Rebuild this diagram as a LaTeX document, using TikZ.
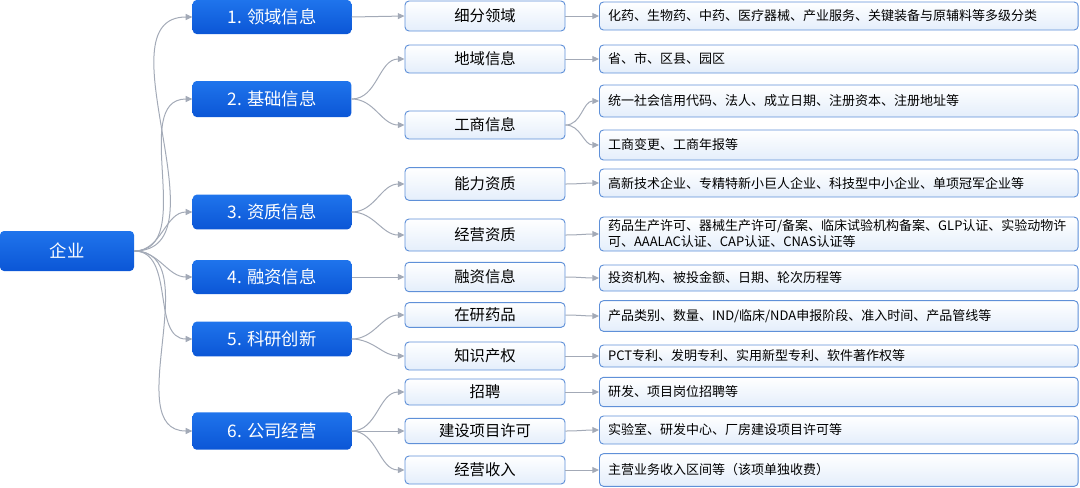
\documentclass[tikz,border=0pt]{standalone}
\usepackage{fontspec}
\setmainfont{Noto Sans CJK SC}
\usepackage{tikz}
\usetikzlibrary{arrows.meta}

\definecolor{mainblue}{HTML}{1F74EC}
\definecolor{deepblue}{HTML}{0B56D6}
\definecolor{edgeblue}{HTML}{5F90D8}
\definecolor{paleblue}{HTML}{E4EEFB}
\definecolor{linkgray}{HTML}{A3AAB7}

\tikzset{
  topbox/.style={rounded corners=3pt, top color=mainblue, bottom color=deepblue, draw=none,
    text=white, minimum width=119pt, minimum height=25.5pt, inner sep=0pt,
    font=\fontsize{13pt}{15pt}\selectfont},
  subbox/.style={rounded corners=3pt, draw=edgeblue, line width=0.7pt, top color=white,
    bottom color=paleblue, minimum width=120pt, minimum height=21pt, inner sep=0pt,
    font=\fontsize{11.5pt}{14pt}\selectfont},
  leafbox/.style={rounded corners=3pt, draw=edgeblue, line width=0.7pt, top color=white,
    bottom color=paleblue, text width=346pt, inner xsep=6.5pt, inner ysep=0pt, align=left,
    minimum height=21pt, anchor=west, font=\fontsize{9.75pt}{12pt}\selectfont},
  link/.style={draw=linkgray, line width=0.75pt, -{Triangle[length=5pt,width=4.5pt]}}
}

\begin{document}
\begin{tikzpicture}[x=0.75pt,y=-0.75pt]
\useasboundingbox (0,0) rectangle (1080,487);

\node [topbox, minimum width=100.5pt, minimum height=30pt] (root) at (67,251) {企业};

\node [topbox] (info) at (272,17) {1. 领域信息};
\node [topbox, minimum height=27pt] (base) at (272,99) {2. 基础信息};
\node [topbox, minimum height=26pt] (qual) at (272,212) {3. 资质信息};
\node [topbox] (fund) at (272,277) {4. 融资信息};
\node [topbox, minimum height=26pt] (rnd) at (272,339) {5. 科研创新};
\node [topbox, minimum height=28pt] (ops) at (272,431) {6. 公司经营};

\node [subbox, minimum height=22.5pt] (field) at (485,16) {细分领域};
\node [subbox] (region) at (485,59) {地域信息};
\node [subbox] (biz) at (485,125) {工商信息};
\node [subbox, minimum height=24.5pt] (ability) at (485,184) {能力资质};
\node [subbox, minimum height=24pt] (license) at (485,235) {经营资质};
\node [subbox, minimum height=22pt] (finance) at (485,277) {融资信息};
\node [subbox, minimum height=18.5pt] (drug) at (485,315) {在研药品};
\node [subbox] (ip) at (485,356) {知识产权};
\node [subbox, minimum height=19.5pt] (hire) at (485,392) {招聘};
\node [subbox, minimum height=19pt] (build) at (485,431) {建设项目许可};
\node [subbox] (income) at (485,470) {经营收入};

\node [leafbox] (fieldtxt) at (599,16) {化药、生物药、中药、医疗器械、产业服务、关键装备与原辅料等多级分类};
\node [leafbox] (regiontxt) at (599,59) {省、市、区县、园区};
\node [leafbox, minimum height=24pt] (biztxt) at (599,101) {统一社会信用代码、法人、成立日期、注册资本、注册地址等};
\node [leafbox, minimum height=22.5pt] (bizchg) at (599,145) {工商变更、工商年报等};
\node [leafbox] (abilitytxt) at (599,183) {高新技术企业、专精特新小巨人企业、科技型中小企业、单项冠军企业等};
\node [leafbox, minimum height=25.5pt] (licensetxt) at (599,234) {药品生产许可、器械生产许可/备案、临床试验机构备案、GLP认证、实验动物许\\可、AAALAC认证、CAP认证、CNAS认证等};
\node [leafbox, minimum height=19.5pt] (financetxt) at (599,278) {投资机构、被投金额、日期、轮次历程等};
\node [leafbox, minimum height=23pt] (drugtxt) at (599,316) {产品类别、数量、IND/临床/NDA申报阶段、准入时间、产品管线等};
\node [leafbox, minimum height=16.5pt] (iptxt) at (599,356) {PCT专利、发明专利、实用新型专利、软件著作权等};
\node [leafbox, minimum height=22pt] (hiretxt) at (599,392) {研发、项目岗位招聘等};
\node [leafbox] (buildtxt) at (599,430) {实验室、研发中心、厂房建设项目许可等};
\node [leafbox, minimum height=24.5pt] (incometxt) at (599,470) {主营业务收入区间等（该项单独收费）};

\foreach \n in {info,base,qual,fund,rnd,ops}
  \draw [link] (root.east) to [out=0, in=180] (\n.west);

\draw [link] (info.east) -- (field.west);
\draw [link] (base.east) to [out=0, in=180] (region.west);
\draw [link] (base.east) to [out=0, in=180] (biz.west);
\draw [link] (qual.east) to [out=0, in=180] (ability.west);
\draw [link] (qual.east) to [out=0, in=180] (license.west);
\draw [link] (fund.east) -- (finance.west);
\draw [link] (rnd.east) to [out=0, in=180] (drug.west);
\draw [link] (rnd.east) to [out=0, in=180] (ip.west);
\draw [link] (ops.east) to [out=0, in=180] (hire.west);
\draw [link] (ops.east) to [out=0, in=180] (build.west);
\draw [link] (ops.east) to [out=0, in=180] (income.west);

\draw [link] (field.east) -- (fieldtxt.west);
\draw [link] (region.east) -- (regiontxt.west);
\draw [link] (biz.east) to [out=0, in=180] (biztxt.west);
\draw [link] (biz.east) to [out=0, in=180] (bizchg.west);
\draw [link] (ability.east) to [out=0, in=180] (abilitytxt.west);
\draw [link] (license.east) to [out=0, in=180] (licensetxt.west);
\draw [link] (finance.east) to [out=0, in=180] (financetxt.west);
\draw [link] (drug.east) to [out=0, in=180] (drugtxt.west);
\draw [link] (ip.east) -- (iptxt.west);
\draw [link] (hire.east) -- (hiretxt.west);
\draw [link] (build.east) to [out=0, in=180] (buildtxt.west);
\draw [link] (income.east) -- (incometxt.west);
\end{tikzpicture}
\end{document}
